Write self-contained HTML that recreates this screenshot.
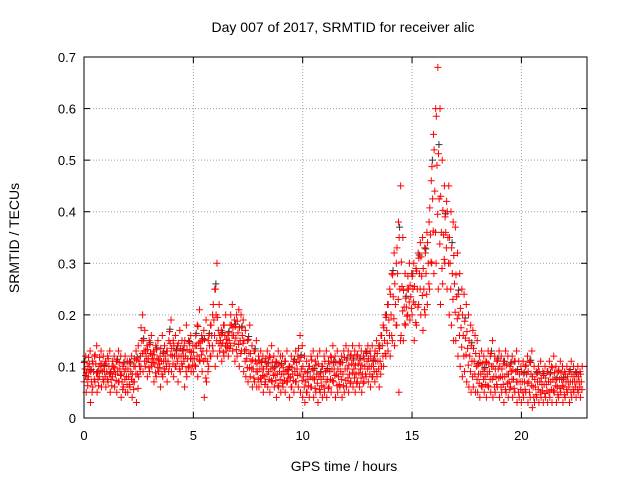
<!DOCTYPE html>
<html><head><meta charset="utf-8">
<style>
html,body{margin:0;padding:0;background:#fff;}
svg{display:block;font-family:"Liberation Sans",sans-serif;}
</style></head>
<body>
<svg id="chart" width="640" height="480">
<text x="343" y="32" font-size="14" text-anchor="middle">Day 007 of 2017, SRMTID for receiver alic</text>
<text x="344" y="471" font-size="14" text-anchor="middle">GPS time / hours</text>
<text transform="translate(19,238) rotate(-90)" font-size="14" text-anchor="middle">SRMTID / TECUs</text>
<g id="grid"></g>
<g id="ticks"></g>
<g id="pts-black"></g>
<g id="pts-red"></g>
<rect x="84" y="57" width="503" height="361" fill="none" stroke="#000" stroke-width="1"/>
</svg>
<script>
const xTicks=[0,5,10,15,20];
const yTicks=[0,0.1,0.2,0.3,0.4,0.5,0.6,0.7];
const yTickLabels=["0","0.1","0.2","0.3","0.4","0.5","0.6","0.7"];
const stepHours=0.1;
const hiVals=[
0.12,0.1,0.13,0.11,0.12,0.14,0.1,0.13,0.12,0.11,
0.12,0.13,0.1,0.12,0.11,0.13,0.12,0.1,0.12,0.11,
0.11,0.12,0.1,0.13,0.14,0.12,0.2,0.17,0.14,0.15,
0.16,0.13,0.14,0.15,0.12,0.16,0.14,0.13,0.15,0.19,
0.15,0.16,0.14,0.17,0.15,0.14,0.18,0.15,0.16,0.14,
0.14,0.18,0.21,0.16,0.17,0.19,0.15,0.18,0.2,0.25,
0.3,0.22,0.17,0.18,0.2,0.16,0.18,0.22,0.19,0.2,
0.21,0.2,0.19,0.17,0.15,0.18,0.14,0.13,0.15,0.12,
0.13,0.12,0.11,0.13,0.12,0.14,0.12,0.11,0.13,0.12,
0.12,0.11,0.13,0.1,0.12,0.11,0.13,0.12,0.16,0.14,
0.12,0.11,0.1,0.12,0.13,0.11,0.12,0.13,0.1,0.12,
0.13,0.11,0.12,0.14,0.12,0.13,0.11,0.12,0.13,0.14,
0.13,0.12,0.14,0.13,0.12,0.14,0.13,0.12,0.13,0.14,
0.13,0.14,0.12,0.15,0.14,0.16,0.18,0.2,0.22,0.25,
0.28,0.32,0.3,0.38,0.45,0.35,0.28,0.25,0.3,0.28,
0.3,0.29,0.32,0.34,0.35,0.33,0.36,0.38,0.46,0.55,
0.6,0.68,0.6,0.5,0.45,0.42,0.45,0.4,0.38,0.37,
0.32,0.28,0.25,0.24,0.22,0.2,0.18,0.17,0.16,0.15,
0.12,0.13,0.12,0.11,0.13,0.12,0.15,0.12,0.11,0.13,
0.12,0.11,0.13,0.12,0.1,0.12,0.11,0.13,0.11,0.1,
0.11,0.1,0.12,0.11,0.13,0.1,0.09,0.1,0.11,0.09,
0.1,0.09,0.11,0.1,0.12,0.1,0.09,0.11,0.1,0.09,
0.1,0.09,0.11,0.1,0.09,0.1,0.09,0.1];
const loVals=[
0.07,0.05,0.08,0.03,0.06,0.07,0.05,0.08,0.06,0.07,
0.06,0.07,0.05,0.08,0.06,0.05,0.07,0.04,0.06,0.05,
0.05,0.06,0.04,0.07,0.03,0.08,0.1,0.09,0.1,0.08,
0.09,0.1,0.07,0.08,0.09,0.06,0.08,0.09,0.07,0.1,
0.09,0.08,0.1,0.07,0.09,0.1,0.06,0.08,0.1,0.09,
0.09,0.1,0.08,0.11,0.09,0.04,0.07,0.1,0.12,0.13,
0.1,0.12,0.13,0.11,0.12,0.13,0.12,0.14,0.13,0.11,
0.12,0.1,0.13,0.09,0.08,0.07,0.08,0.06,0.07,0.06,
0.06,0.07,0.05,0.07,0.06,0.05,0.07,0.06,0.04,0.06,
0.05,0.06,0.05,0.07,0.04,0.06,0.05,0.07,0.06,0.05,
0.04,0.03,0.05,0.04,0.06,0.04,0.05,0.03,0.05,0.04,
0.05,0.04,0.06,0.05,0.07,0.04,0.05,0.06,0.04,0.05,
0.06,0.05,0.07,0.06,0.05,0.07,0.06,0.05,0.07,0.08,
0.07,0.06,0.08,0.07,0.08,0.06,0.1,0.1,0.12,0.13,
0.12,0.15,0.14,0.18,0.05,0.16,0.15,0.18,0.2,0.19,
0.2,0.15,0.18,0.22,0.2,0.17,0.2,0.22,0.25,0.3,
0.28,0.3,0.25,0.22,0.26,0.3,0.25,0.2,0.18,0.15,
0.15,0.12,0.1,0.08,0.09,0.07,0.06,0.05,0.06,0.05,
0.05,0.04,0.06,0.05,0.04,0.06,0.05,0.04,0.05,0.06,
0.04,0.05,0.03,0.05,0.04,0.06,0.04,0.05,0.03,0.04,
0.03,0.04,0.05,0.03,0.04,0.02,0.03,0.04,0.03,0.04,
0.03,0.04,0.03,0.04,0.03,0.05,0.03,0.04,0.05,0.03,
0.04,0.05,0.03,0.04,0.05,0.04,0.05,0.04];

const X0=84,X1=587,Y0=418,Y1=57,XMAX=23,YMAX=0.7;
const xs=v=>X0+(X1-X0)*v/XMAX;
const ys=v=>Y0-(Y0-Y1)*v/YMAX;
const NS="http://www.w3.org/2000/svg";
function mk(tag,attrs,parent){const e=document.createElementNS(NS,tag);for(const k in attrs)e.setAttribute(k,attrs[k]);parent.appendChild(e);return e;}
const grid=document.getElementById('grid'),ticks=document.getElementById('ticks');
xTicks.forEach(t=>{
  const x=xs(t);
  if(t>0){const g=mk('line',{x1:x,x2:x,y1:Y0,y2:Y1,stroke:'#a0a0a0','stroke-dasharray':'1,2'},grid);
  
  }
  mk('line',{x1:x,x2:x,y1:Y0,y2:Y0-6,stroke:'#000'},ticks);
  mk('line',{x1:x,x2:x,y1:Y1,y2:Y1+6,stroke:'#000'},ticks);
  const l=mk('text',{x:x,y:Y0+22,'font-size':13,'text-anchor':'middle'},ticks);l.textContent=t;
  
  
});
yTicks.forEach((t,i)=>{
  const y=ys(t);
  if(t>0&&t<YMAX){const g=mk('line',{x1:X0,x2:X1,y1:y,y2:y,stroke:'#a0a0a0','stroke-dasharray':'1,2'},grid);
  
  }
  mk('line',{x1:X0,x2:X0+6,y1:y,y2:y,stroke:'#000'},ticks);
  mk('line',{x1:X1,x2:X1-6,y1:y,y2:y,stroke:'#000'},ticks);
  const l=mk('text',{x:X0-8,y:y+5,'font-size':13,'text-anchor':'end'},ticks);l.textContent=yTickLabels[i];
  
  
});
function plus(g,x,y,c){
  const p=mk('path',{d:`M${x-3.5},${y}h7M${x},${y-3.5}v7`,stroke:c,'stroke-width':1,fill:'none'},g);
  
  
}
const gb=document.getElementById('pts-black'),gr=document.getElementById('pts-red');
hiVals.forEach((h,i)=>{
  if(i%3!==0)return;
  const t=i*stepHours;
  plus(gb,xs(t+0.03),ys(loVals[i]+(h-loVals[i])*0.8),'#333');
});
hiVals.forEach((h,i)=>{
  const lo=loVals[i],t=i*stepHours;
  const n=5;
  for(let k=0;k<n;k++){
    const v=lo+(h-lo)*k/(n-1);
    const dt=((k*37)%10)/10*stepHours;
    plus(gr,xs(t+dt),ys(v),'#ff0000');
  }
});
</script>
</body></html>
